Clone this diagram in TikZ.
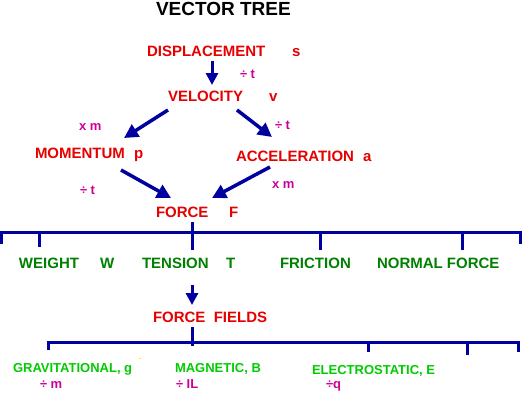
\documentclass[tikz,border=0pt]{standalone}
\usepackage{fontspec}
\setmainfont{Liberation Sans}
\usetikzlibrary{arrows.meta}
\definecolor{vred}{HTML}{E60000}
\definecolor{vmag}{HTML}{CC0099}
\definecolor{vblue}{HTML}{0000A0}
\definecolor{vdgreen}{HTML}{008000}
\definecolor{vlgreen}{HTML}{00CC00}
\begin{document}
\begin{tikzpicture}[x=1pt,y=-1pt,
  base/.style={inner sep=0pt, outer sep=0pt, anchor=base west},
  titletext/.style={base, font=\bfseries\fontsize{19}{19}\selectfont, text=black},
  qty/.style={base, font=\bfseries\fontsize{15}{15}\selectfont, text=vred},
  op/.style={base, font=\bfseries\fontsize{13}{13}\selectfont, text=vmag},
  force/.style={base, font=\bfseries\fontsize{15}{15}\selectfont, text=vdgreen},
  field/.style={base, font=\bfseries\fontsize{13}{13}\selectfont, text=vlgreen},
  arr/.style={draw=vblue, line width=3pt, -{Triangle[width=12pt,length=12pt]}},
  darr/.style={draw=vblue, line width=3.5pt, -{Triangle[width=14pt,length=14pt]}},
  bar/.style={draw=vblue, line width=3pt}
]
\fill[white] (0,0) rectangle (522,394);
\useasboundingbox (0,0) rectangle (522,394);

% title
\node[titletext] (title) at (156,15) {VECTOR TREE};

% quantities
\node[qty] (disp) at (147,56.5) {DISPLACEMENT};
\node[qty] (s) at (292,56.5) {s};
\node[qty] (vel) at (168,101) {VELOCITY};
\node[qty] (v) at (269,101) {v};
\node[qty] (mom) at (35,158) {MOMENTUM};
\node[qty] (p) at (134,158) {p};
\node[qty] (acc) at (236,161) {ACCELERATION};
\node[qty] (a) at (363,161) {a};
\node[qty] (force) at (156,217) {FORCE};
\node[qty] (F) at (229,217) {F};
\node[qty] (ff) at (153,322) {FORCE\ \ FIELDS};

% operations
\node[op] (op1) at (240,78) {÷ t};
\node[op] (op2) at (79,130) {x m};
\node[op] (op3) at (275,129) {÷ t};
\node[op] (op4) at (80,194) {÷ t};
\node[op] (op5) at (272,188) {x m};

% arrow ends
\coordinate (d1) at (212,61);  \coordinate (v1) at (212,85);
\coordinate (v2) at (168,110); \coordinate (m1) at (124,138);
\coordinate (v3) at (237,110); \coordinate (a1) at (272,137);
\coordinate (m2) at (121,170); \coordinate (f1) at (171,198);
\coordinate (a2) at (270,167); \coordinate (f2) at (212,198);
\coordinate (t1) at (192,285); \coordinate (ff1) at (192,305);

\draw[arr] (d1) -- (v1);
\draw[darr] (v2) -- (m1);
\draw[darr] (v3) -- (a1);
\draw[darr] (m2) -- (f1);
\draw[darr] (a2) -- (f2);
\draw[arr] (t1) -- (ff1);

% force bar
\draw[bar] (0,232.5) -- (522,232.5);
\draw[bar] (1.5,232.5) -- (1.5,244);
\draw[bar] (39,232.5) -- (39,247);
\draw[bar] (192,222) -- (192,250);
\draw[bar] (320,232.5) -- (320,250);
\draw[bar] (462,232.5) -- (462,250);
\draw[bar] (520.5,232.5) -- (520.5,244);

% forces
\node[force] (wt) at (19,268) {WEIGHT};
\node[force] (W) at (100,268) {W};
\node[force] (ten) at (142,268) {TENSION};
\node[force] (T) at (226,268) {T};
\node[force] (fr) at (280,268) {FRICTION};
\node[force] (nf) at (377,268) {NORMAL FORCE};

% field bar
\draw[bar] (192,327) -- (192,346);
\draw[bar] (46.5,342) -- (519.5,342);
\draw[bar] (48,342) -- (48,350);
\draw[bar] (368,342) -- (368,352);
\draw[bar] (467,342) -- (467,355);
\draw[bar] (518,342) -- (518,352);

% fields
\node[field] (grav) at (13,372) {GRAVITATIONAL, g};
\node[field] (mag) at (175,372) {MAGNETIC, B};
\node[field] (elec) at (312,374) {ELECTROSTATIC, E};
\fill[yellow] (138.5,357.5) rectangle (140.5,358.5);

\node[op] (op6) at (40,388) {÷ m};
\node[op] (op7) at (176,388) {÷ IL};
\node[op] (op8) at (326,388) {÷q};
\end{tikzpicture}
\end{document}
